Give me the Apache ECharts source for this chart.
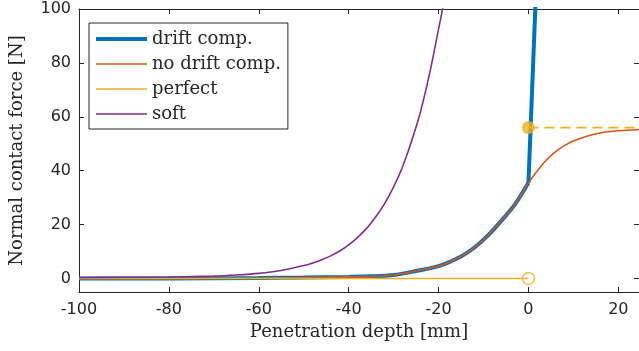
<!DOCTYPE html>
<html>
<head>
<meta charset="utf-8">
<script src="https://cdn.jsdelivr.net/npm/echarts@6/dist/echarts.min.js"></script>
<style>
  html, body { margin: 0; padding: 0; background: #fff; }
  #chart { width: 639px; height: 351px; }
</style>
</head>
<body>
<div id="chart"></div>
<script>
// penetration depth [mm] -> normal contact force [N]
const driftComp = [
  [-100, 0], [-80, 0.05], [-60, 0.2], [-50, 0.35], [-40, 0.6], [-35, 0.8],
  [-30, 1.3], [-25, 2.8], [-20, 4.6], [-15, 8.2], [-12, 11.5], [-9, 16],
  [-6, 21.5], [-3, 27.5], [0, 35.5]
];
const driftCompJump = [[0, 35.5], [1.55, 101]];
const noDriftComp = [
  [-100, 0], [-80, 0.05], [-60, 0.2], [-50, 0.35], [-40, 0.6], [-35, 0.8],
  [-30, 1.3], [-25, 2.8], [-20, 4.6], [-15, 8.2], [-12, 11.5], [-9, 16],
  [-6, 21.5], [-3, 27.5], [0, 35.5], [2, 40], [4, 44], [6, 47], [8, 49.3],
  [10, 51], [13, 52.8], [16, 54], [20, 54.8], [24.6, 55.3]
];
const perfect = [[-100, 0], [0, 0]];
const perfectOpen = [[0, 0]];
const perfectContact = [[0, 56]];
const perfectDashed = [[0, 56], [24.6, 56]];
const soft = [
  [-100, 0.4], [-90, 0.45], [-80, 0.55], [-70, 0.9], [-65, 1.3], [-60, 1.9],
  [-55, 3.0], [-50, 4.8], [-48, 5.8], [-46, 7], [-44, 8.4], [-42, 10.2],
  [-40, 12.5], [-38, 15.3], [-36, 18.6], [-34, 22.8], [-32, 27.8], [-30, 34],
  [-28, 41.5], [-26, 51], [-24, 62], [-22, 76], [-20, 92.5], [-19, 101]
];

const xRange = { min: -100, max: 24.6, interval: 20 };
const yRange = { min: -5, max: 100 };
const yTickValues = [0, 20, 40, 60, 80, 100];

const ink = "#262626";
const colors = {
  blue: "#0072BD",
  orange: "#D95319",
  yellow: "#EDB120",
  purple: "#7E2F8E",
};

const chart = echarts.init(document.getElementById("chart"));

const tickStyle = { show: true, inside: true, length: 5, lineStyle: { color: ink, width: 1 } };
const axisLineStyle = { show: true, onZero: false, lineStyle: { color: ink, width: 1 } };
const thinIcon = "path://M0,0H51V1.6H0Z";
const thickIcon = "path://M0,0H51V4H0Z";

const options = {
  animation: false,
  grid: { left: 76, right: 0, top: 9, bottom: 59 },
  legend: {
    left: 89,
    top: 23,
    orient: "vertical",
    data: [
      { name: "drift comp.", icon: thickIcon },
      { name: "no drift comp.", icon: thinIcon },
      { name: "perfect", icon: thinIcon },
      { name: "soft", icon: thinIcon },
    ],
    itemWidth: 51,
    itemHeight: 14,
    itemGap: 7,
    padding: [7, 7, 6, 7],
    backgroundColor: "#fff",
    borderColor: ink,
    borderWidth: 1,
    borderRadius: 0,
    textStyle: { fontFamily: "DejaVu Serif", fontSize: 18, lineHeight: 18, color: ink },
  },
  xAxis: [
    {
      type: "value",
      min: xRange.min,
      max: xRange.max,
      interval: xRange.interval,
      name: "Penetration depth [mm]",
      nameLocation: "middle",
      nameGap: 22,
      nameTextStyle: { fontFamily: "DejaVu Serif", fontSize: 18, color: ink },
      axisLine: axisLineStyle,
      axisTick: tickStyle,
      axisLabel: { showMaxLabel: false, fontFamily: "DejaVu Sans", fontSize: 16, color: ink, margin: 10 },
      splitLine: { show: false },
    },
    {
      type: "value",
      position: "top",
      min: xRange.min,
      max: xRange.max,
      interval: xRange.interval,
      axisLine: axisLineStyle,
      axisTick: tickStyle,
      axisLabel: { show: false },
      splitLine: { show: false },
    },
  ],
  yAxis: [
    {
      type: "value",
      min: yRange.min,
      max: yRange.max,
      name: "Normal contact force [N]",
      nameLocation: "middle",
      nameGap: 53,
      nameTextStyle: { fontFamily: "DejaVu Serif", fontSize: 18, color: ink },
      axisLine: axisLineStyle,
      axisTick: Object.assign({ customValues: yTickValues }, tickStyle),
      axisLabel: {
        customValues: yTickValues,
        fontFamily: "DejaVu Sans", fontSize: 16, color: ink, margin: 8,
      },
      splitLine: { show: false },
    },
    {
      type: "value",
      position: "right",
      min: yRange.min,
      max: yRange.max,
      axisLine: { show: false, onZero: false },
      axisTick: Object.assign({ customValues: yTickValues }, tickStyle),
      axisLabel: { show: false },
      splitLine: { show: false },
    },
  ],
  series: [
    {
      name: "drift comp.",
      type: "line",
      data: driftComp,
      smooth: 0.3,
      symbol: "none",
      color: colors.blue,
      lineStyle: { width: 4, color: colors.blue },
      z: 2,
    },
    {
      name: "drift comp.",
      type: "line",
      data: driftCompJump,
      symbol: "none",
      color: colors.blue,
      lineStyle: { width: 4, color: colors.blue },
      z: 2,
    },
    {
      name: "no drift comp.",
      type: "line",
      data: noDriftComp,
      smooth: 0.3,
      symbol: "none",
      color: colors.orange,
      lineStyle: { width: 1.6, color: colors.orange },
      z: 3,
    },
    {
      name: "perfect",
      type: "line",
      data: perfect,
      symbol: "none",
      color: colors.yellow,
      lineStyle: { width: 1.6, color: colors.yellow },
      z: 4,
    },
    {
      name: "perfect-dash",
      type: "line",
      data: perfectDashed,
      symbol: "none",
      lineStyle: { width: 1.6, color: colors.yellow, type: [10, 6] },
      z: 4,
    },
    {
      name: "perfect-open",
      type: "scatter",
      data: perfectOpen,
      symbol: "circle",
      symbolSize: 12,
      itemStyle: { color: "rgba(255,255,255,0)", borderColor: colors.yellow, borderWidth: 1.6 },
      z: 5,
    },
    {
      name: "perfect-contact",
      type: "scatter",
      data: perfectContact,
      symbol: "circle",
      symbolSize: 13,
      itemStyle: { color: colors.yellow },
      z: 5,
    },
    {
      name: "soft",
      type: "line",
      data: soft,
      smooth: 0.3,
      symbol: "none",
      color: colors.purple,
      lineStyle: { width: 1.6, color: colors.purple },
      z: 4,
    },
  ],
};

chart.setOption(options);
</script>
</body>
</html>
